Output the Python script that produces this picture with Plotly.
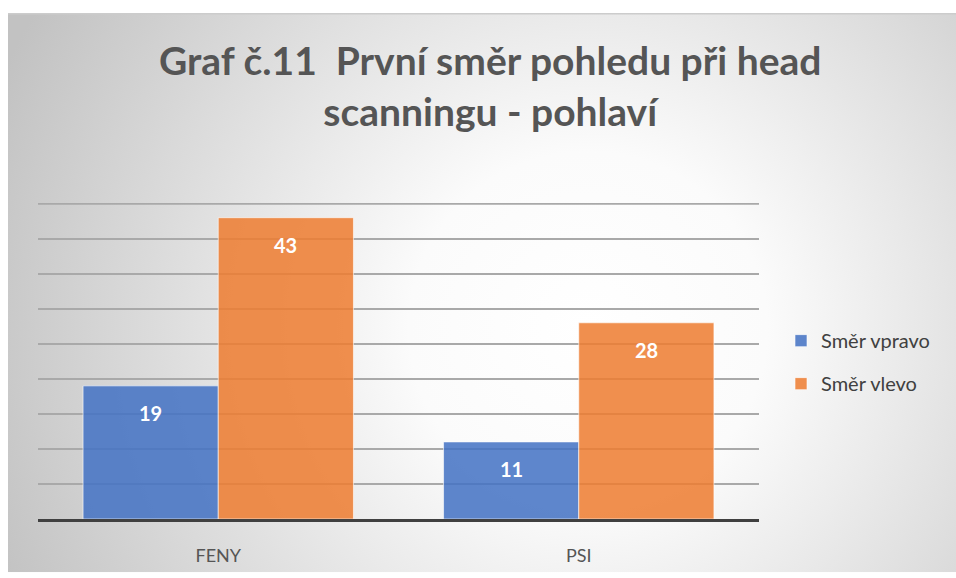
import base64
import plotly.graph_objects as go

categories = ["FENY", "PSI"]
series_names = ["Směr vpravo", "Směr vlevo"]
vpravo = [19, 11]
vlevo = [43, 28]
title_text = "Graf č.11  První směr pohledu při head<br>scanningu - pohlaví"
y_max = 45

W, H = 956, 578
L, R, T, B = 38, 197, 203, 54
pw, ph = W - L - R, H - T - B

colors = ["rgba(68,114,196,0.86)", "rgba(237,125,49,0.86)"]
font_main = "Lato, 'Open Sans', sans-serif"

fig = go.Figure()
for name, vals, c in zip(series_names, [vpravo, vlevo], colors):
    fig.add_trace(go.Bar(
        x=categories, y=vals, name=name, legendgroup=name,
        marker=dict(color=c, line=dict(color="rgba(255,255,255,0.6)", width=1)),
        hoverinfo="skip",
    ))

# data labels near top of each bar
offsets = [-0.1875, 0.1875]
for off, vals in zip(offsets, [vpravo, vlevo]):
    for i, v in enumerate(vals):
        fig.add_annotation(x=i + off, y=v, xref="x", yref="y", text=str(v),
                           showarrow=False, yshift=-27,
                           font=dict(family=font_main, size=20, color="white", weight="bold"))

# top gridline at axis maximum
fig.add_shape(type="line", xref="paper", yref="y", x0=0, x1=1, y0=y_max, y1=y_max,
              line=dict(color="#a9a9a9", width=2), layer="below")

# background radial gradient
svg = f"""<svg xmlns='http://www.w3.org/2000/svg' width='948' height='568' viewBox='0 0 948 568' preserveAspectRatio='none'>
<defs><radialGradient id='g' gradientUnits='userSpaceOnUse' cx='580' cy='320' r='640'>
<stop offset='0' stop-color='#ffffff'/><stop offset='0.28' stop-color='#fbfbfb'/>
<stop offset='1' stop-color='#c2c2c2'/></radialGradient></defs>
<rect x='0' y='0' width='948' height='568' fill='url(#g)'/>
<line x1='0' y1='0.5' x2='948' y2='0.5' stroke='#cccccc' stroke-width='2'/>
</svg>"""
src = "data:image/svg+xml;base64," + base64.b64encode(svg.encode()).decode()
fx0, fy0 = 8, 10
fig.add_layout_image(dict(
    source=src, xref="paper", yref="paper",
    x=(fx0 - L) / pw, y=(H - B - fy0) / ph,
    sizex=(W - fx0) / pw, sizey=(H - fy0) / ph,
    sizing="stretch", xanchor="left", yanchor="top", layer="below",
))

fig.add_annotation(text=title_text, xref="paper", yref="paper",
                   x=(490 - L) / pw, y=(H - B - 84) / ph, showarrow=False,
                   xanchor="center", yanchor="middle", align="center",
                   font=dict(family=font_main, size=39, color="#555555", weight="bold"))

fig.update_layout(
    width=W, height=H,
    margin=dict(l=L, r=R, t=T, b=B, pad=0),
    paper_bgcolor="white", plot_bgcolor="rgba(0,0,0,0)",
    barmode="group", bargap=0.25, bargroupgap=0,
    showlegend=True,
    legend=dict(x=(781 - L) / pw, y=(H - B - 323) / ph, xanchor="left", yanchor="top",
                bgcolor="rgba(0,0,0,0)", font=dict(family=font_main, size=20, color="#404040"),
                tracegroupgap=14, traceorder="grouped", itemwidth=30),
    xaxis=dict(showgrid=False, showline=True, linecolor="#404040", linewidth=3,
               tickfont=dict(family=font_main, size=18, color="#555555"), ticks="",
               ticklabelstandoff=18),
    yaxis=dict(range=[0, y_max + 0.1], dtick=5, showticklabels=False, showgrid=True,
               gridcolor="#a9a9a9", gridwidth=2, zeroline=False, showline=False),
)
fig.write_html("out.html", config={"displayModeBar": False},
               post_script="document.body.style.margin='0';document.body.style.overflow='hidden';")
